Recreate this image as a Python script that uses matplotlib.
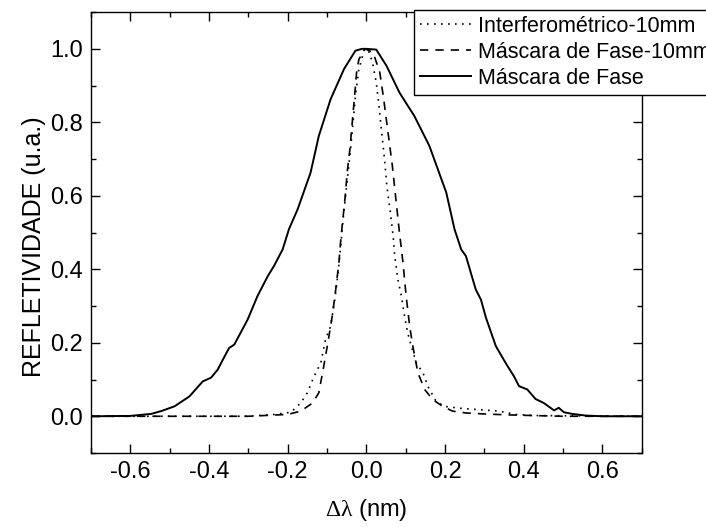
import numpy as np
import matplotlib
matplotlib.use("Agg")
import matplotlib.pyplot as plt
from matplotlib.ticker import MultipleLocator

plt.rcParams['font.family'] = ['Liberation Sans', 'DejaVu Sans']
plt.rcParams['mathtext.fontset'] = 'custom'
plt.rcParams['mathtext.rm'] = 'Liberation Serif'

# Máscara de Fase (full grating)
x_mf = [-0.70, -0.60, -0.547, -0.522, -0.488, -0.45, -0.416, -0.395, -0.378, -0.365,
        -0.349, -0.336, -0.302, -0.277, -0.251, -0.235, -0.213, -0.197, -0.175, -0.142,
        -0.121, -0.091, -0.057, -0.028, -0.011, 0.0, 0.025, 0.051, 0.084, 0.122,
        0.16, 0.203, 0.224, 0.241, 0.253, 0.278, 0.291, 0.304, 0.329, 0.354,
        0.375, 0.388, 0.409, 0.43, 0.451, 0.477, 0.489, 0.502, 0.523, 0.557,
        0.60, 0.70]
y_mf = [0.0, 0.001, 0.0065, 0.014, 0.027, 0.054, 0.095, 0.105, 0.127, 0.154,
        0.186, 0.195, 0.263, 0.327, 0.381, 0.409, 0.454, 0.509, 0.563, 0.663,
        0.763, 0.863, 0.945, 0.995, 1.0, 1.0, 0.998, 0.954, 0.881, 0.817,
        0.736, 0.609, 0.509, 0.454, 0.436, 0.345, 0.318, 0.268, 0.191, 0.145,
        0.109, 0.082, 0.073, 0.047, 0.036, 0.016, 0.023, 0.011, 0.0065, 0.002,
        0.0, 0.0]

# Máscara de Fase-10mm
x_mf10 = [-0.70, -0.30, -0.20, -0.167, -0.137, -0.121, -0.11, -0.098, -0.087, -0.078,
          -0.07, -0.064, -0.059, -0.053, -0.049, -0.042, -0.036, -0.03, -0.025, -0.019,
          -0.003, 0.017, 0.034, 0.044, 0.055, 0.066, 0.074, 0.084, 0.093, 0.101,
          0.11, 0.118, 0.131, 0.148, 0.169, 0.194, 0.219, 0.253, 0.295, 0.354,
          0.42, 0.50, 0.70]
y_mf10 = [0.0, 0.0, 0.005, 0.014, 0.036, 0.064, 0.127, 0.2, 0.272, 0.345,
          0.418, 0.495, 0.545, 0.609, 0.663, 0.727, 0.8, 0.872, 0.936, 0.972,
          1.0, 0.99, 0.936, 0.863, 0.772, 0.681, 0.6, 0.5, 0.418, 0.327,
          0.245, 0.191, 0.118, 0.073, 0.045, 0.027, 0.014, 0.009, 0.0065, 0.004,
          0.002, 0.0, 0.0]

# Interferométrico-10mm
x_int = [-0.70, -0.30, -0.235, -0.192, -0.167, -0.15, -0.133, -0.116, -0.104, -0.091,
         -0.08, -0.071, -0.064, -0.058, -0.052, -0.046, -0.04, -0.034, -0.028, -0.02,
         -0.005, 0.008, 0.017, 0.025, 0.032, 0.038, 0.046, 0.052, 0.061, 0.068,
         0.072, 0.08, 0.089, 0.097, 0.105, 0.114, 0.127, 0.144, 0.156, 0.177,
         0.198, 0.245, 0.287, 0.337, 0.38, 0.43, 0.70]
y_int = [0.0, 0.0, 0.005, 0.011, 0.036, 0.064, 0.109, 0.145, 0.209, 0.245,
         0.32, 0.40, 0.48, 0.55, 0.61, 0.67, 0.73, 0.80, 0.87, 0.94,
         1.0, 0.99, 0.954, 0.908, 0.845, 0.781, 0.7, 0.627, 0.554, 0.49,
         0.436, 0.372, 0.327, 0.272, 0.227, 0.191, 0.145, 0.118, 0.082, 0.041,
         0.027, 0.021, 0.018, 0.014, 0.005, 0.002, 0.0]

labels = ["Interferométrico-10mm", "Máscara de Fase-10mm", "Máscara de Fase"]

fig = plt.figure(figsize=(7.06, 5.27), dpi=100)
ax = fig.add_axes([0.129, 0.1404, 0.780, 0.8366])

ax.plot(x_int, y_int, color='black', lw=1.2, dashes=(1, 3.2), label=labels[0])
ax.plot(x_mf10, y_mf10, color='black', lw=1.2, dashes=(5, 4.2), label=labels[1])
ax.plot(x_mf, y_mf, color='black', lw=1.4, label=labels[2])

ax.set_xlim(-0.7, 0.7)
ax.set_ylim(-0.1, 1.1)
ax.xaxis.set_minor_locator(MultipleLocator(0.1))
ax.yaxis.set_minor_locator(MultipleLocator(0.1))
ax.set_xticks(np.arange(-0.6, 0.61, 0.2))
ax.set_xticklabels(["-0.6", "-0.4", "-0.2", "0.0", "0.2", "0.4", "0.6"])
ax.set_yticks(np.arange(0.0, 1.01, 0.2))
ax.set_yticklabels(["0.0", "0.2", "0.4", "0.6", "0.8", "1.0"])

ax.tick_params(which='both', direction='in', top=True, right=True, width=1.0, labelsize=17)
ax.tick_params(which='major', length=6.5, pad=6)
ax.tick_params(which='minor', length=3.5)
for s in ax.spines.values():
    s.set_linewidth(1.0)

ax.set_xlabel(r'$\mathrm{Δλ}$ (nm)', fontsize=17, labelpad=10)
ax.set_ylabel('REFLETIVIDADE (u.a.)', fontsize=18)
ax.yaxis.set_label_coords(-0.082, 0.469)

fig.legend(loc='upper left', bbox_to_anchor=(414 / 706, 1 - 10 / 527),
           bbox_transform=fig.transFigure, fontsize=15.5, frameon=True,
           fancybox=False, edgecolor='black', framealpha=1, borderpad=0.28,
           labelspacing=0.22, handlelength=2.35, handletextpad=0.36,
           borderaxespad=0)
fig.legends[0].get_frame().set_linewidth(1.0)

fig.savefig("out.png", dpi=100)
